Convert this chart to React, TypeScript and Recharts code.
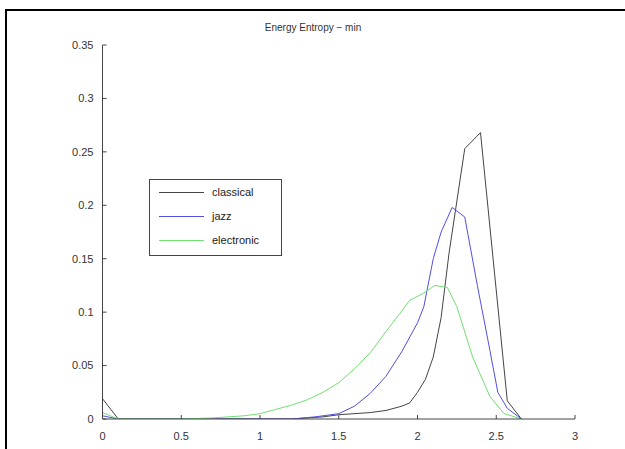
import React from 'react';
import { LineChart, Line, XAxis, YAxis } from 'recharts';

const chartTitle = 'Energy Entropy − min';
const xTicks = [0, 0.5, 1, 1.5, 2, 2.5, 3];
const yTicks = [0, 0.05, 0.1, 0.15, 0.2, 0.25, 0.3, 0.35];
const seriesNames = ['classical', 'jazz', 'electronic'];
const seriesColors = ['#444444', '#5050dc', '#70e070'];

const classicalX = [0, 0.1, 1.2, 1.4, 1.5, 1.7, 1.8, 1.9, 1.95, 2.0, 2.05, 2.1, 2.15, 2.2, 2.3, 2.4, 2.57, 2.66];
const classicalY = [0.019, 0, 0, 0.002, 0.004, 0.006, 0.008, 0.012, 0.015, 0.025, 0.037, 0.058, 0.095, 0.155, 0.253, 0.268, 0.017, 0];

const jazzX = [0, 0.1, 1.2, 1.35, 1.5, 1.6, 1.7, 1.8, 1.9, 2.0, 2.04, 2.1, 2.15, 2.22, 2.3, 2.38, 2.46, 2.51, 2.57, 2.66];
const jazzY = [0.003, 0, 0, 0.002, 0.005, 0.012, 0.024, 0.04, 0.063, 0.09, 0.105, 0.15, 0.175, 0.198, 0.189, 0.125, 0.064, 0.025, 0.01, 0];

const electronicX = [0, 0.1, 0.5, 0.7, 0.9, 1.0, 1.1, 1.2, 1.3, 1.4, 1.5, 1.6, 1.7, 1.8, 1.9, 1.95, 2.03, 2.11, 2.19, 2.25, 2.35, 2.46, 2.55, 2.66];
const electronicY = [0.006, 0, 0, 0.001, 0.003, 0.005, 0.009, 0.013, 0.018, 0.025, 0.034, 0.047, 0.062, 0.082, 0.101, 0.111, 0.117, 0.125, 0.123, 0.105, 0.058, 0.021, 0.005, 0];

const toPoints = (xs: number[], ys: number[]) => xs.map((x, i) => ({ x, y: ys[i] }));
const seriesData = [
  toPoints(classicalX, classicalY),
  toPoints(jazzX, jazzY),
  toPoints(electronicX, electronicY),
];

const FONT = '"Liberation Sans", Arial, Helvetica, sans-serif';

export default function App() {
  return (
    <div style={{ position: 'absolute', left: 0, top: 0, width: 625, height: 449, background: '#fff', fontFamily: FONT }}>
      <div style={{ position: 'absolute', left: 5, top: 9, width: 620, height: 2, background: '#000' }} />
      <div style={{ position: 'absolute', left: 5, top: 9, width: 2, height: 440, background: '#000' }} />
      <div style={{ position: 'absolute', left: 213, top: 22, width: 200, textAlign: 'center', fontSize: 10, color: '#333', lineHeight: '12px' }}>
        {chartTitle}
      </div>
      <div style={{ position: 'absolute', left: 0, top: 0 }}>
        <LineChart width={625} height={449} margin={{ top: 45, right: 50, bottom: 0, left: 0 }}>
          <XAxis
            type="number"
            dataKey="x"
            domain={[0, 3]}
            ticks={xTicks}
            allowDataOverflow
            height={30}
            tickSize={-4}
            tickMargin={17}
            stroke="#444"
            tick={{ fill: '#333', fontSize: 11, fontFamily: FONT }}
            tickFormatter={(v: number) => String(v)}
          />
          <YAxis
            type="number"
            dataKey="y"
            domain={[0, 0.35]}
            ticks={yTicks}
            allowDataOverflow
            width={102.5}
            tickSize={-4}
            tickMargin={13}
            stroke="#444"
            tick={{ fill: '#333', fontSize: 11, fontFamily: FONT }}
            tickFormatter={(v: number) => String(Math.round(v * 100) / 100)}
          />
          {seriesData.map((d, i) => (
            <Line
              key={seriesNames[i]}
              data={d}
              dataKey="y"
              name={seriesNames[i]}
              type="linear"
              stroke={seriesColors[i]}
              strokeWidth={1}
              dot={false}
              activeDot={false}
              isAnimationActive={false}
            />
          ))}
        </LineChart>
      </div>
      <div style={{ position: 'absolute', left: 149, top: 179, width: 133, height: 77, border: '1px solid #444', background: '#fff', boxSizing: 'border-box' }}>
        {seriesNames.map((n, i) => (
          <div key={n} style={{ position: 'absolute', left: 0, top: 5 + i * 24, height: 14, width: 130 }}>
            <div style={{ position: 'absolute', left: 9, top: 7, width: 45, height: 1, background: seriesColors[i] }} />
            <div style={{ position: 'absolute', left: 62, top: 0, fontSize: 11, lineHeight: '14px', color: '#222' }}>{n}</div>
          </div>
        ))}
      </div>
    </div>
  );
}
